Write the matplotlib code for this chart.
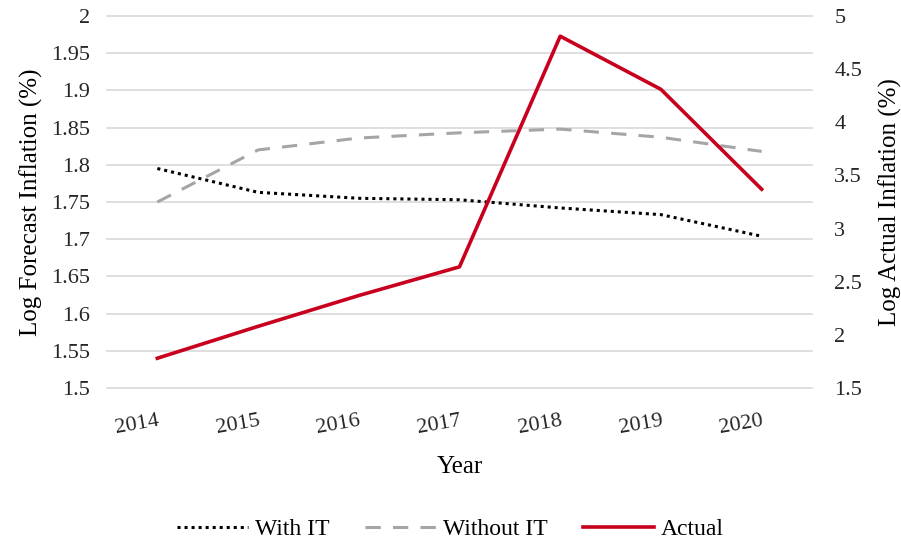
import matplotlib.pyplot as plt

plt.rcParams['font.family'] = ['Liberation Serif', 'DejaVu Serif']

# Data
years = ['2014', '2015', '2016', '2017', '2018', '2019', '2020']
with_it = [1.795, 1.763, 1.755, 1.753, 1.742, 1.733, 1.704]
without_it = [1.750, 1.820, 1.836, 1.843, 1.848, 1.837, 1.818]
actual = [1.78, 2.08, 2.37, 2.64, 4.81, 4.31, 3.37]

left_ticks = [1.5, 1.55, 1.6, 1.65, 1.7, 1.75, 1.8, 1.85, 1.9, 1.95, 2]
right_ticks = [1.5, 2, 2.5, 3, 3.5, 4, 4.5, 5]

fig = plt.figure(figsize=(9.01, 5.46), dpi=100)
ax = fig.add_axes([107 / 901, 1 - 388 / 546, 705 / 901, 372 / 546])
ax2 = ax.twinx()

x = list(range(len(years)))

l1, = ax.plot(x, with_it, color='black', linestyle=(0, (1, 1.3)), linewidth=2.2, label='With IT')
l2, = ax.plot(x, without_it, color='#a5a5a5', linestyle=(0, (5, 4)), linewidth=2.2, label='Without IT')
l3, = ax2.plot(x, actual, color='#c8001e', linewidth=2.6, label='Actual')

ax.set_xlim(-0.5, len(years) - 0.5)
ax.set_ylim(1.5, 2)
ax2.set_ylim(1.5, 5)
ax.set_yticks(left_ticks)
ax.set_yticklabels([f'{v:g}' for v in left_ticks])
ax2.set_yticks(right_ticks)
ax2.set_yticklabels([f'{v:g}' for v in right_ticks])
ax.set_xticks(x)
ax.set_xticklabels(years, rotation=10, ha='right', rotation_mode='anchor')

ax.grid(axis='y', color='#d9d9d9', linewidth=1.2)
for g in ax.get_ygridlines():
    g.set_clip_on(False)
ax.set_axisbelow(True)
for a in (ax, ax2):
    for s in a.spines.values():
        s.set_visible(False)
    a.tick_params(length=0, labelsize=16, colors='#262626')
ax.tick_params(axis='y', pad=12)
ax2.tick_params(axis='y', pad=16)
ax.tick_params(axis='x', pad=17)

ax.set_xlabel('Year', fontsize=18, labelpad=13)
ax.set_ylabel('Log Forecast Inflation (%)', fontsize=18, labelpad=6)
ax2.set_ylabel('Log Actual Inflation (%)', fontsize=18, labelpad=12)

fig.legend(handles=[l1, l2, l3], loc='center', bbox_to_anchor=(0.5, 1 - 529 / 546),
           ncol=3, frameon=False, fontsize=17, handlelength=3.0, columnspacing=1.5,
           handletextpad=0.3)

fig.savefig('out.png', dpi=100)
